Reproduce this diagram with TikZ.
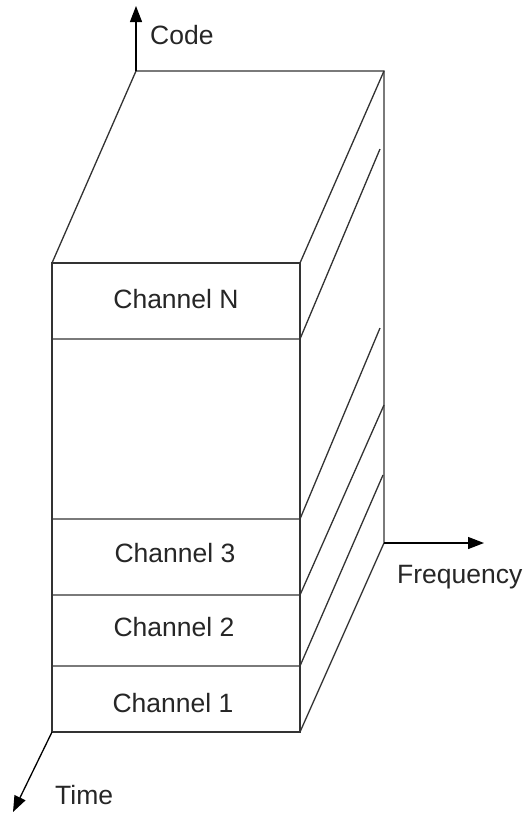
\documentclass[tikz,border=0pt]{standalone}
\usepackage{fontspec}
\setmainfont{Liberation Sans}
\usetikzlibrary{arrows.meta}
\definecolor{linec}{HTML}{333333}
\tikzset{
  edge/.style={draw=linec, line width=1.3pt},
  axis/.style={draw=black, line width=1.3pt, -{Triangle[length=16pt,width=12pt]}},
  lbl/.style={inner sep=0pt, font=\fontsize{26.5}{30}\selectfont, text=black!85},
}
\begin{document}
\begin{tikzpicture}[x=1pt,y=-1pt]
\useasboundingbox (0,0) rectangle (526,814);
\fill[white] (0,0) rectangle (526,814);
% front corners
\coordinate (FTL) at (52,263);
\coordinate (FTR) at (300,263);
\coordinate (FBL) at (52,732);
\coordinate (FBR) at (300,732);
% back corners
\coordinate (BTL) at (136,71);
\coordinate (BTR) at (384,71);
\coordinate (BBR) at (384,543);
% separators on front right
\coordinate (SNL) at (52,339);  \coordinate (SNR) at (300,339);
\coordinate (S3L) at (52,519);  \coordinate (S3R) at (300,519);
\coordinate (S2L) at (52,595);  \coordinate (S2R) at (300,595);
\coordinate (S1L) at (52,666);  \coordinate (S1R) at (300,666);
% ends of side lines
\coordinate (ENb) at (380,149);
\coordinate (E3b) at (380,328);
\coordinate (E2b) at (384,405);
\coordinate (E1b) at (383,475);
% axis ends
\coordinate (CodeEnd) at (136,6);
\coordinate (FreqEnd) at (484,543);
\coordinate (TimeEnd) at (13,812);

% box
\draw[edge] (FTL) -- (FTR) -- (FBR) -- (FBL) -- cycle;
\draw[edge] (FTL) -- (BTL) -- (BTR) -- (BBR) -- (FBR);
\draw[edge] (FTR) -- (BTR);
\draw[edge] (SNL) -- (SNR) -- (ENb);
\draw[edge] (S3L) -- (S3R) -- (E3b);
\draw[edge] (S2L) -- (S2R) -- (E2b);
\draw[edge] (S1L) -- (S1R) -- (E1b);

% axes
\draw[axis] (BTL) -- (CodeEnd);
\draw[axis] (BBR) -- (FreqEnd);
\draw[axis] (FBL) -- (TimeEnd);

% labels
\node[lbl, anchor=west] (code) at (150,35) {Code};
\node[lbl, anchor=west] (freq) at (397,577) {Frequency};
\node[lbl, anchor=west] (time) at (55,795) {Time};
\node[lbl] (chN) at (176,299) {Channel N};
\node[lbl] (ch3) at (175,553) {Channel 3};
\node[lbl] (ch2) at (174,627) {Channel 2};
\node[lbl] (ch1) at (173,703) {Channel 1};
\end{tikzpicture}
\end{document}
